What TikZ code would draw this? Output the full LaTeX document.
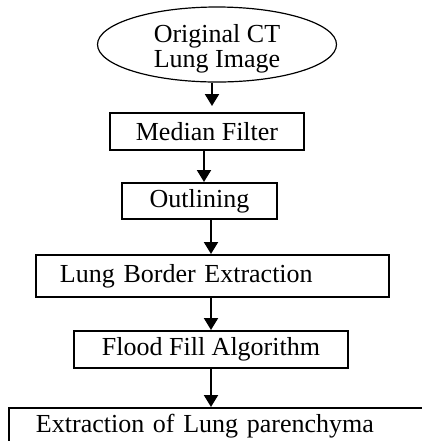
\documentclass[tikz,border=0pt]{standalone}
\usepackage{fontspec}
\setmainfont{Liberation Serif}
\usetikzlibrary{shapes,arrows.meta,calc}

\tikzset{
  txt/.style={font=\fontsize{13}{11}\selectfont},
  box/.style={draw, rectangle, line width=1pt, inner sep=0pt, txt},
  arr/.style={line width=1pt, -{Triangle[width=7pt,length=6pt]}}
}

\begin{document}
\begin{tikzpicture}[x=0.5pt,y=-0.5pt]
\useasboundingbox (0,0) rectangle (422,441);
% steps
\node[ellipse, draw, line width=.6pt, minimum width=119.5pt, minimum height=37.5pt,
      inner sep=0pt] (orig) at (217,44.5) {};
\node[txt, align=center, inner sep=0pt] (origtxt) at (217,49) {Original CT\\Lung Image};
\node[box, minimum width=97pt, minimum height=18.5pt] (median) at (207,131.5) {Median Filter};
\node[box, minimum width=77.5pt, minimum height=18pt] (outline) at (199.5,201) {Outlining};
\node[box, minimum height=21pt, text width=152.5pt, inner xsep=12pt, align=left] (border) at (212.5,276) {Lung Border Extraction};
\node[box, minimum width=137pt, minimum height=18.5pt] (flood) at (211,349.5) {Flood Fill Algorithm};
\node[box, anchor=north west, text width=220pt, inner xsep=13.5pt, text height=12pt, text depth=40pt,
      align=left] (parench) at (8,407) {Extraction of Lung parenchyma};
% arrows
\coordinate (a1) at ([xshift=-2.5pt]orig.south);
\coordinate (a2) at ([xshift=-1.5pt]median.south);
\coordinate (a3) at ([xshift=5.75pt]outline.south);
\draw[arr, shorten >=3pt] (a1) -- (a1 |- median.north);
\draw[arr] (a2) -- (a2 |- outline.north);
\draw[arr] (a3) -- (a3 |- border.north);
\draw[arr] (flood.north |- border.south) -- (flood.north);
\draw[arr] (flood.south) -- (flood.south |- parench.north);
\end{tikzpicture}
\end{document}
